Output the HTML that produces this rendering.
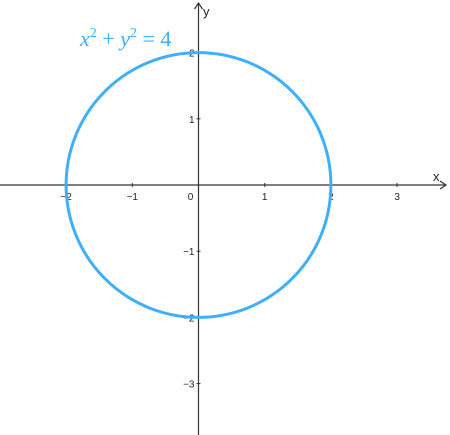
<!DOCTYPE html>
<html><head><style>body{margin:0;background:#fff}svg{display:block}</style></head>
<body>
<svg width="450" height="435" font-family="Liberation Sans, sans-serif">
<g id="g"></g>
</svg>
<script>
const xTicks=[-2,-1,0,1,2,3];
const yTicks=[2,1,-1,-2,-3];
const radius=[2];
const ox=198.5, oy=185, s=66.2;
const X=v=>ox+v*s, Y=v=>oy-v*s;
const g=document.getElementById('g');
const ns='http://www.w3.org/2000/svg';
function mk(t,a,txt){const e=document.createElementNS(ns,t);for(const k in a)e.setAttribute(k,a[k]);if(txt!==undefined)e.textContent=txt;g.appendChild(e);return e;}
let e;
e=mk('line',{x1:0,y1:oy,x2:446,y2:oy,stroke:'#333','stroke-width':1.2});

e=mk('polyline',{points:`440,181 446,${oy} 440,189`,fill:'none',stroke:'#333','stroke-width':1.2});

e=mk('line',{x1:ox,y1:435,x2:ox,y2:3,stroke:'#333','stroke-width':1.2});

e=mk('polyline',{points:`${ox-4},9 ${ox},3 ${ox+4},9`,fill:'none',stroke:'#333','stroke-width':1.2});

e=mk('text',{x:433,y:181,'font-size':13,fill:'#222'},'x');

e=mk('text',{x:203,y:16,'font-size':13,fill:'#222'},'y');

xTicks.forEach(v=>{
  if(v!==0){e=mk('line',{x1:X(v),y1:oy-2,x2:X(v),y2:oy+2,stroke:'#333'});
  }
  e=mk('text',{x:v===0?X(v)-8:X(v),y:200,'font-size':10,'text-anchor':'middle',fill:'#222'},v<0?'\u2212'+(-v):String(v));
  
});
yTicks.forEach(v=>{
  e=mk('line',{x1:ox-2,y1:Y(v),x2:ox+2,y2:Y(v),stroke:'#333'});
  
  e=mk('text',{x:ox-4,y:Y(v)+4,'font-size':10,'text-anchor':'end',fill:'#222'},v<0?'\u2212'+(-v):String(v));
  
});
radius.forEach(r=>{
  e=mk('circle',{cx:X(0),cy:Y(0),r:r*s,fill:'none',stroke:'#3fb0f7','stroke-width':3});
  
});
e=mk('text',{x:80,y:46,'font-size':22,fill:'#3fb0f7','font-family':'Liberation Serif, serif'});
e.innerHTML='<tspan font-style="italic">x</tspan><tspan dy="-9" font-size="14">2</tspan><tspan dy="9"> + </tspan><tspan font-style="italic">y</tspan><tspan dy="-9" font-size="14">2</tspan><tspan dy="9"> = 4</tspan>';

</script>
</body></html>
